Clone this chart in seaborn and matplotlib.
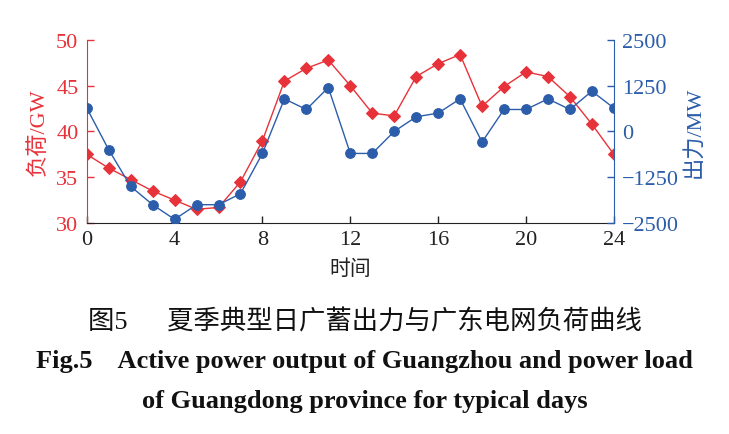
import matplotlib
matplotlib.use('Agg')
import matplotlib.pyplot as plt
import seaborn as sns
import pandas as pd

# Data
hours = list(range(25))
load_gw = [37.5, 36.0, 34.75, 33.5, 32.5, 31.5, 31.7, 34.5, 39.0, 45.5, 46.9, 47.8, 45.0,
           42.0, 41.7, 46.0, 47.4, 48.4, 42.75, 44.9, 46.5, 46.0, 43.8, 40.8, 37.5]
output_mw = [640, -500, -1500, -2000, -2400, -2000, -2000, -1700, -600, 890, 600, 1200, -600,
             -600, 0, 400, 500, 890, -290, 600, 600, 890, 600, 1100, 640]
x_ticks = [0, 4, 8, 12, 16, 20, 24]
load_ticks = [30, 35, 40, 45, 50]
output_ticks = [-2500, -1250, 0, 1250, 2500]

df = pd.DataFrame({'hour': hours, 'load': load_gw, 'output': output_mw})

red = '#e8323a'
blue = '#2c5daa'
serif = ['Liberation Serif', 'DejaVu Serif']
cjk = ['Noto Sans CJK SC', 'DejaVu Sans']
mixed = ['Liberation Serif', 'Noto Sans CJK SC']

sns.set_style('ticks')
plt.rcParams['font.family'] = serif
plt.rcParams['axes.unicode_minus'] = True

fig = plt.figure(figsize=(7.29, 4.35), dpi=100)
ax = fig.add_axes([0.119, 0.485, 0.723, 0.421])

sns.lineplot(data=df, x='hour', y='load', ax=ax, color=red, marker='D', markersize=6.5,
             markeredgecolor=red, linewidth=1.0, zorder=3)
ax2 = ax.twinx()
sns.lineplot(data=df, x='hour', y='output', ax=ax2, color=blue, marker='o', markersize=7,
             markeredgecolor=blue, linewidth=1.0, zorder=3)

ax.set_xlim(0, 24)
ax.set_ylim(30, 50)
ax2.set_ylim(-2500, 2500)
ax.set_xticks(x_ticks)
ax.set_yticks(load_ticks)
ax2.set_yticks(output_ticks)
ax2.set_yticklabels([f'{v}'.replace('-', '\u2212') for v in output_ticks])

for a in (ax, ax2):
    a.spines['top'].set_visible(False)
    a.tick_params(direction='in', length=5, width=1)
ax.spines['left'].set_color(red)
ax.spines['bottom'].set_color('#222222')
ax2.spines['right'].set_color(blue)
ax2.spines['left'].set_visible(False)
ax2.spines['bottom'].set_visible(False)
ax.spines['right'].set_visible(False)

ax.tick_params(axis='y', colors=red, labelsize=16, pad=6)
ax.tick_params(axis='x', colors='#222222', labelsize=16, pad=5)
ax2.tick_params(axis='y', colors=blue, labelsize=16, pad=6)

ax.set_xlabel('时间', family=cjk, fontsize=15, color='#222222', labelpad=6)
ax.set_ylabel('负荷/GW', family=mixed, fontsize=16, color=red, labelpad=5)
ax2.set_ylabel('出力/MW', family=mixed, fontsize=16, color=blue, labelpad=3)

fig.text(0.5, 0.26, '图5\u3000  夏季典型日广蓄出力与广东电网负荷曲线', ha='center', va='center',
         family=mixed, fontsize=19, color='#111111')
fig.text(0.5, 0.168, 'Fig.5    Active power output of Guangzhou and power load', ha='center',
         va='center', family=serif, fontsize=19, fontweight='bold', color='#111111')
fig.text(0.5, 0.076, 'of Guangdong province for typical days', ha='center', va='center',
         family=serif, fontsize=19, fontweight='bold', color='#111111')

fig.savefig('out.png', dpi=100)
